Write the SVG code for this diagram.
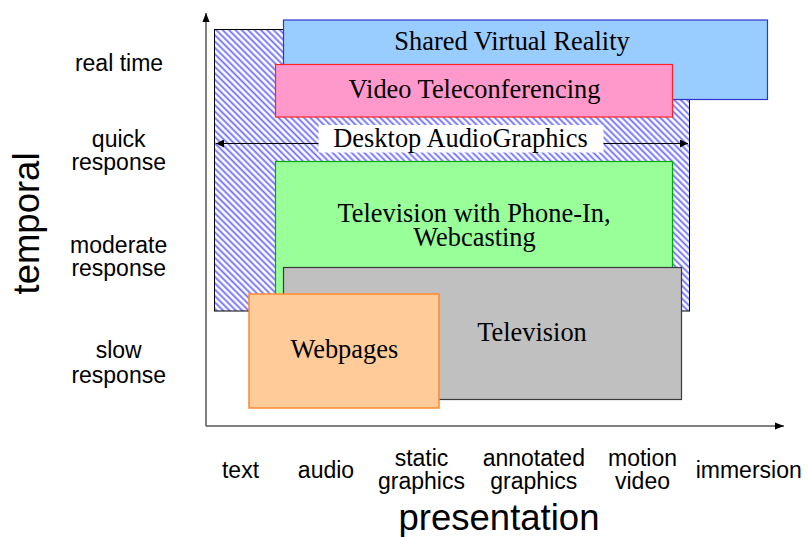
<svg xmlns="http://www.w3.org/2000/svg" width="808" height="537" viewBox="0 0 808 537">
<style>
.ser{font-family:"Liberation Serif","Times New Roman",serif;font-size:26.4px;fill:#000;text-anchor:middle}
.lab{font-family:"Liberation Sans",Arial,sans-serif;font-size:23px;fill:#000;text-anchor:middle}
.big{font-family:"Liberation Sans",Arial,sans-serif;font-size:36.5px;fill:#000;text-anchor:middle}
.axis{stroke:#555;stroke-width:1.5;fill:none}
</style>
<defs>
<pattern id="hatch" width="4.5" height="4.5" patternUnits="userSpaceOnUse" patternTransform="rotate(-45)">
<rect width="4.5" height="4.5" fill="#fff"/>
<line x1="1.2" y1="0" x2="1.2" y2="4.5" stroke="#6f6fff" stroke-width="1.8"/>
</pattern>
<marker id="ah" viewBox="0 0 10 10" refX="10" refY="5" markerWidth="8" markerHeight="8" markerUnits="userSpaceOnUse" orient="auto-start-reverse">
<path d="M0,0 L10,5 L0,10 z" fill="#000"/>
</marker>
<marker id="ah2" viewBox="0 0 10 10" refX="10" refY="5" markerWidth="9" markerHeight="9" markerUnits="userSpaceOnUse" orient="auto">
<path d="M0,1 L10,5 L0,9 z" fill="#000"/>
</marker>
</defs>
<g id="connectors">
<line class="axis" x1="206" y1="426" x2="206" y2="13" marker-end="url(#ah2)"/>
<line class="axis" x1="206" y1="426" x2="784" y2="426" marker-end="url(#ah2)"/>
</g>
<g id="desktop-audiographics">
<rect x="214.5" y="29.5" width="475" height="281.5" fill="url(#hatch)" stroke="#000" stroke-width="1"/>
</g>
<g id="shared-virtual-reality">
<rect x="283.5" y="20" width="484" height="79.5" fill="#99ccff" stroke="#3333cc" stroke-width="1.2"/>
<text class="ser" x="512" y="50">Shared Virtual Reality</text>
</g>
<g id="video-teleconferencing">
<rect x="275.5" y="64.5" width="397" height="52.5" fill="#ff99cc" stroke="#ff2222" stroke-width="1.2"/>
<text class="ser" x="474.5" y="97.7">Video Teleconferencing</text>
</g>
<g id="desktop-label">
<rect x="318.5" y="125" width="285" height="27.5" fill="#fff"/>
<line x1="318.5" y1="143.5" x2="216" y2="143.5" stroke="#000" stroke-width="1" marker-end="url(#ah)"/>
<line x1="603.5" y1="143.5" x2="688" y2="143.5" stroke="#000" stroke-width="1" marker-end="url(#ah)"/>
<text class="ser" x="460.5" y="146.7">Desktop AudioGraphics</text>
</g>
<g id="television-phone-in">
<rect x="275.5" y="161.5" width="397" height="140" fill="#99ff99" stroke="#00aa00" stroke-width="1.2"/>
<text class="ser" x="474" y="222.3">Television with Phone-In,</text>
<text class="ser" x="474.5" y="245.5">Webcasting</text>
</g>
<g id="television">
<rect x="283.5" y="267.5" width="398" height="132" fill="#c0c0c0" stroke="#3a3a3a" stroke-width="1.2"/>
<text class="ser" x="532" y="340.7">Television</text>
</g>
<g id="webpages">
<rect x="249" y="294" width="190" height="114" fill="#ffcc99" stroke="#ff8833" stroke-width="1.5"/>
<text class="ser" x="344.3" y="358.3">Webpages</text>
</g>
<g id="y-labels">
<text class="lab" x="119" y="70.7">real time</text>
<text class="lab" x="118.7" y="146.7">quick</text>
<text class="lab" x="118.7" y="169.5">response</text>
<text class="lab" x="118.7" y="253.3">moderate</text>
<text class="lab" x="118.7" y="276">response</text>
<text class="lab" x="118.7" y="358.3">slow</text>
<text class="lab" x="118.7" y="382.7">response</text>
<text class="big" transform="translate(38.5,223.5) rotate(-90)" x="0" y="0">temporal</text>
</g>
<g id="x-labels">
<text class="lab" x="240.5" y="477.7">text</text>
<text class="lab" x="326" y="477.7">audio</text>
<text class="lab" x="421.5" y="466">static</text>
<text class="lab" x="421.5" y="489.3">graphics</text>
<text class="lab" x="533.8" y="466">annotated</text>
<text class="lab" x="533.8" y="489.3">graphics</text>
<text class="lab" x="642.5" y="466">motion</text>
<text class="lab" x="642.5" y="489.3">video</text>
<text class="lab" x="748.7" y="477.7">immersion</text>
<text class="big" x="499" y="530">presentation</text>
</g>
</svg>
